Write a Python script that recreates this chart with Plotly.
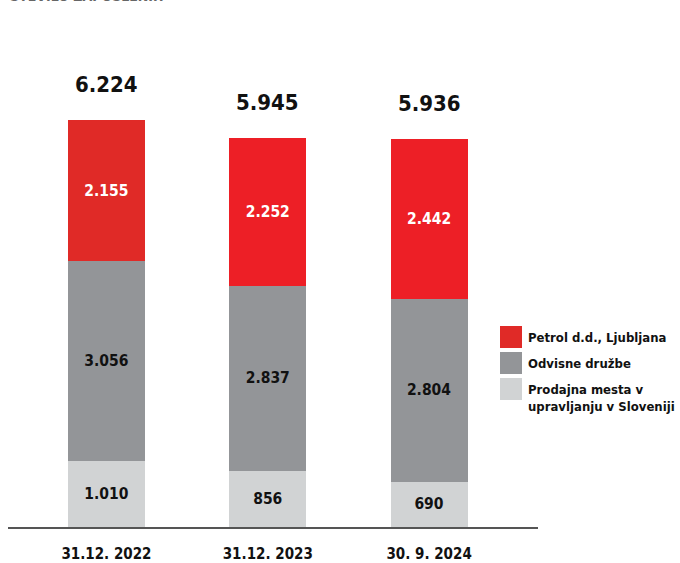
import plotly.graph_objects as go

categories = ["31.12. 2022", "31.12. 2023", "30. 9. 2024"]
prodajna = [1010, 856, 690]
odvisne = [3056, 2837, 2804]
petrol = [2155, 2252, 2442]
totals = [6224, 5945, 5936]
prodajna_lbl = ["1.010", "856", "690"]
odvisne_lbl = ["3.056", "2.837", "2.804"]
petrol_lbl = ["2.155", "2.252", "2.442"]
totals_lbl = ["6.224", "5.945", "5.936"]
series_names = ["Petrol d.d., Ljubljana", "Odvisne družbe", "Prodajna mesta v<br>upravljanju v Sloveniji"]

FONT = "DejaVu Sans Condensed, Liberation Sans Narrow, Arial, sans-serif"
RED = ["#E02A27", "#ED1F26", "#ED1F26"]
GREY = "#939598"
LIGHT = "#D1D3D4"
W = 0.477

fig = go.Figure()
fig.add_trace(go.Bar(x=categories, y=prodajna, name=series_names[2], marker_color=LIGHT,
                     width=W, text=[f"<b>{t}</b>" for t in prodajna_lbl], textposition="inside",
                     insidetextanchor="middle", textfont=dict(color="#111", size=15.5, family=FONT),
                     showlegend=False))
fig.add_trace(go.Bar(x=categories, y=odvisne, name=series_names[1], marker_color=GREY,
                     width=W, text=[f"<b>{t}</b>" for t in odvisne_lbl], textposition="inside",
                     insidetextanchor="middle", textfont=dict(color="#111", size=15.5, family=FONT),
                     showlegend=False))
fig.add_trace(go.Bar(x=categories, y=petrol, name=series_names[0], marker_color=RED,
                     width=W, text=[f"<b>{t}</b>" for t in petrol_lbl], textposition="inside",
                     insidetextanchor="middle", textfont=dict(color="white", size=15.5, family=FONT),
                     showlegend=False))
for tr in fig.data:
    tr.marker.line.width = 0
    tr.constraintext = "none"

for c, t, lbl in zip(categories, totals, totals_lbl):
    fig.add_annotation(x=c, y=t, text=f"<b>{lbl}</b>", showarrow=False, yanchor="bottom",
                       yshift=21, font=dict(size=22, color="#111", family=FONT))

# custom legend
leg_colors = [RED[0], GREY, LIGHT]
leg_y = [337, 363, 389]
for col, yc, nm in zip(leg_colors, leg_y, series_names):
    fig.add_shape(type="rect", xref="paper", yref="paper",
                  x0=(500 - 8) / 530, x1=(522 - 8) / 530,
                  y0=(527 - (yc + 11)) / 527, y1=(527 - (yc - 11)) / 527,
                  fillcolor=col, line_width=0)
    fig.add_annotation(xref="paper", yref="paper", x=(526 - 8) / 530, y=(527 - (yc - 9)) / 527,
                       xanchor="left", yanchor="top", align="left", showarrow=False,
                       text=f"<b>{nm}</b>", font=dict(size=13, color="#111", family=FONT))

# cropped title (cut at the top edge, as in the source image)
fig.add_annotation(xref="paper", yref="paper", x=0, y=1, xanchor="left", yanchor="bottom",
                   yshift=-6, showarrow=False, text="<b>ŠTEVILO ZAPOSLENIH</b>",
                   font=dict(size=14, color="#666", family=FONT))

fig.update_layout(
    barmode="stack", width=680, height=563,
    margin=dict(l=8, r=142, t=0, b=36),
    paper_bgcolor="white", plot_bgcolor="white",
    showlegend=False, uniformtext=dict(mode=False),
    font=dict(family=FONT),
)
fig.update_xaxes(range=[-0.61, 2.675], showline=True, linecolor="#555", linewidth=1.5,
                 ticks="", tickfont=dict(size=15, color="#111", family=FONT),
                 ticklabelstandoff=12, tickprefix="<b>", ticksuffix="</b>", showgrid=False)
fig.update_yaxes(range=[0, 8059], visible=False, showgrid=False, zeroline=False)

fig.write_html("out.html", config={"displayModeBar": False},
               post_script="document.body.style.margin='0';document.body.style.overflow='hidden';")
